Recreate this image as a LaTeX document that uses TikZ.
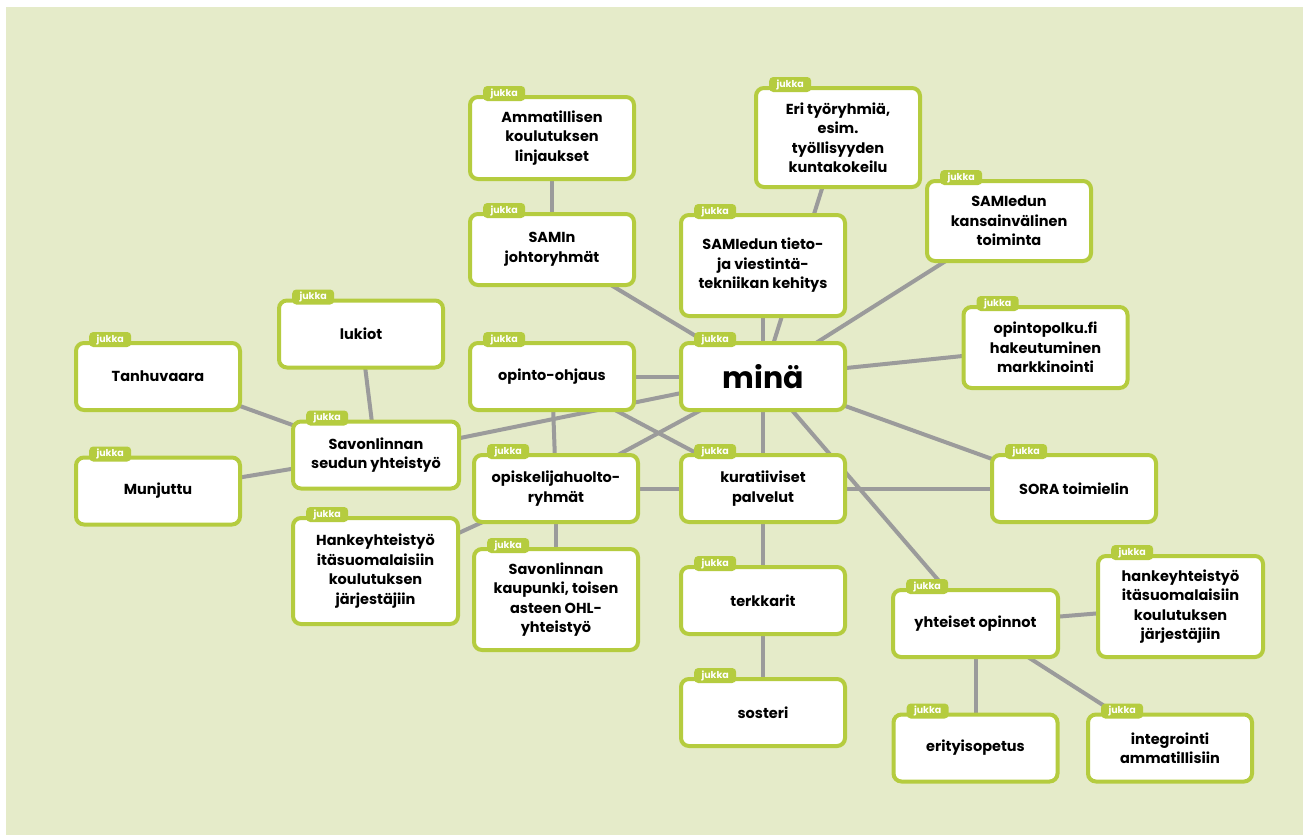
\documentclass[tikz,border=0pt]{standalone}
\usepackage{fontspec}
\setmainfont{Poppins}
\usetikzlibrary{positioning,backgrounds}
\definecolor{lime}{HTML}{B5CC3F}
\definecolor{paper}{HTML}{E5EBC9}
\definecolor{wire}{HTML}{9B9B9B}
\begin{document}
\begin{tikzpicture}[x=1pt,y=-1pt,
  card/.style={draw=lime,line width=4pt,fill=white,rounded corners=8pt,outer sep=0pt,
    minimum width=164pt,minimum height=67pt,align=center,inner sep=2pt,
    font=\bfseries\fontsize{14.5}{19.5}\selectfont,
    label={[jukkatag]north west:jukka}},
  jukkatag/.style={anchor=west,xshift=13pt,yshift=3.5pt,fill=lime,text=white,
    rounded corners=4pt,minimum width=42pt,minimum height=15pt,inner sep=1pt,
    font=\bfseries\fontsize{9.5}{10}\selectfont},
  link/.style={draw=wire,line width=4pt}]
\useasboundingbox (0,0) rectangle (1303,835);
%the boxes, top row
\node[card,minimum height=82pt] (amm) at (552,138) {Ammatillisen\\koulutuksen\\linjaukset};
\node[card,minimum height=71pt] (samin) at (552,249.5) {SAMIn\\johtoryhmät};
\node[card,minimum height=99pt] (eri) at (838,137.5) {Eri työryhmiä,\\esim.\\työllisyyden\\kuntakokeilu};
\node[card,minimum height=101pt] (tieto) at (763,265.5) {SAMIedun tieto-\\ja viestintä-\\tekniikan kehitys};
\node[card,minimum height=80pt] (kv) at (1009,221) {SAMIedun\\kansainvälinen\\toiminta};
\node[card,minimum height=81pt] (polku) at (1045.5,347.5) {opintopolku.fi\\hakeutuminen\\markkinointi};
%the middle
\node[card,font=\bfseries\fontsize{30}{34}\selectfont] (mina) at (763,376.5) {minä};
\node[card] (ohjaus) at (552,376.5) {opinto-ohjaus};
\node[card] (lukiot) at (361,334) {lukiot};
\node[card] (tanhu) at (158,376.5) {Tanhuvaara};
\node[card,minimum width=166pt] (seutu) at (376,455) {Savonlinnan\\seudun yhteistyö};
\node[card] (munj) at (158,491) {Munjuttu};
\node[card] (huolto) at (556,488.5) {opiskelijahuolto-\\ryhmät};
\node[card] (kurat) at (763,488.5) {kuratiiviset\\palvelut};
\node[card] (sora) at (1074,488.5) {SORA toimielin};
%bottom
\node[card,minimum width=165pt,minimum height=106pt] (hanke1) at (375.5,571) {Hankeyhteistyö\\itäsuomalaisiin\\koulutuksen\\järjestäjiin};
\node[card,minimum height=101pt] (kaup) at (556,599.5) {Savonlinnan\\kaupunki, toisen\\asteen OHL-\\yhteistyö};
\node[card] (terkk) at (763,600.5) {terkkarit};
\node[card] (soster) at (763,712.5) {sosteri};
\node[card,minimum width=165pt] (yhteis) at (975.5,623.5) {yhteiset opinnot};
\node[card,minimum width=165pt,minimum height=101pt] (hanke2) at (1180.5,606.5) {hankeyhteistyö\\itäsuomalaisiin\\koulutuksen\\järjestäjiin};
\node[card] (erit) at (975.5,748) {erityisopetus};
\node[card] (integ) at (1170,748) {integrointi\\ammatillisiin};
%paper and the grey links behind the boxes
\begin{pgfonlayer}{background}
\fill[white] (0,0) rectangle (1303,835); \fill[paper] (6,7) rectangle (1303,835);
\draw[link] (amm)--(samin); \draw[link] (samin)--(mina);
\draw[link] (eri)--(mina); \draw[link] (tieto)--(mina); \draw[link] (kv)--(mina);
\draw[link] (polku)--(mina); \draw[link] (sora)--(mina); \draw[link] (yhteis)--(mina);
\draw[link] (ohjaus)--(mina); \draw[link] (kurat)--(mina); \draw[link] (seutu)--(mina);
\draw[link] (huolto)--(mina); \draw[link] (ohjaus)--(kurat); \draw[link] (ohjaus)--(huolto);
\draw[link] (huolto)--(kurat); \draw[link] (kurat)--(sora); \draw[link] (huolto)--(kaup);
\draw[link] (hanke1)--(huolto); \draw[link] (lukiot)--(seutu);
\draw[link] (tanhu)--(seutu); \draw[link] (munj)--(seutu);
\draw[link] (kurat)--(terkk); \draw[link] (terkk)--(soster);
\draw[link] (yhteis)--(hanke2); \draw[link] (yhteis)--(erit); \draw[link] (yhteis)--(integ);
\end{pgfonlayer}
\end{tikzpicture}
\end{document}
